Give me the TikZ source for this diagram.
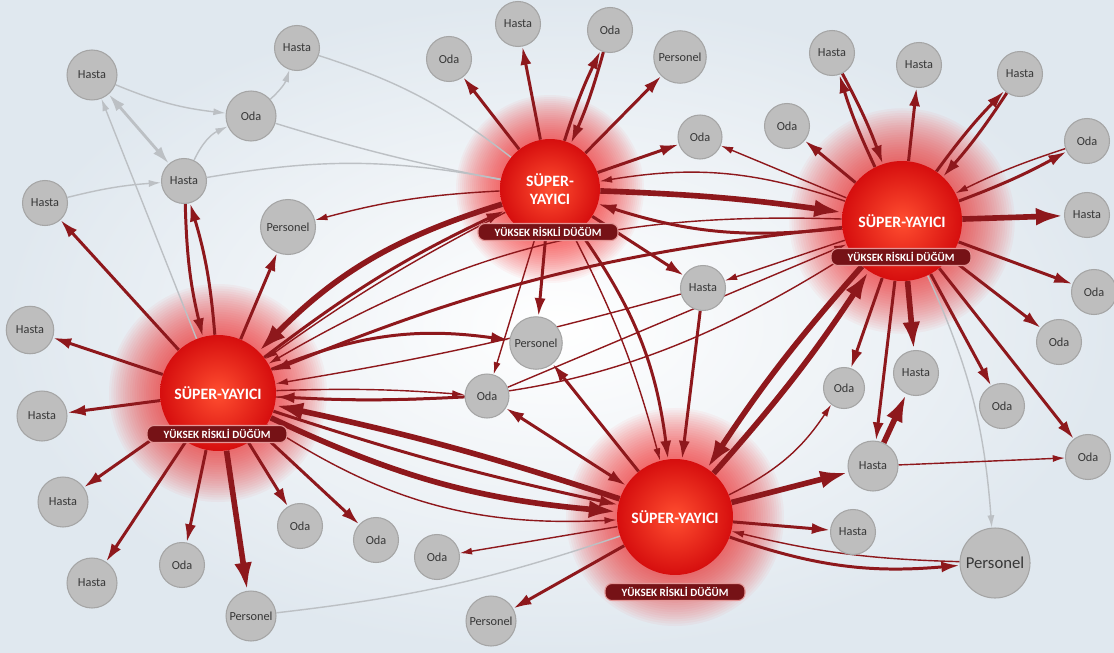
\documentclass[tikz,border=0pt]{standalone}
\usepackage{fontspec}
\setmainfont{Carlito}
\usetikzlibrary{arrows.meta}
\definecolor{linkred}{RGB}{142,24,28}
\definecolor{linkgray}{RGB}{188,192,196}
\definecolor{nodegray}{RGB}{190,190,190}
\definecolor{nodeline}{RGB}{165,165,165}
\definecolor{txtgray}{RGB}{55,55,55}
\definecolor{hubin}{RGB}{255,78,48}
\definecolor{hubout}{RGB}{214,14,14}
\definecolor{tagred}{RGB}{118,18,22}
\definecolor{tagline}{RGB}{228,150,150}
\definecolor{bgblue}{RGB}{224,232,239}
\definecolor{glowred}{RGB}{255,25,25}
\pgfdeclarelayer{bg}
\pgfdeclarelayer{links}
\pgfsetlayers{bg,links,main}

\begin{document}
\begin{tikzpicture}
[
x=0.02cm,y=-0.02cm,
>={Latex[length=4pt 3.75 0,width=2pt 2.5 0]},
hub/.style={circle,minimum size=#1,inner sep=0pt,inner color=hubin,outer color=hubout,text=white,align=center,font=\bfseries\fontsize{9}{10}\selectfont},
risk/.style={rounded corners=4pt,fill=tagred,draw=tagline,line width=0.6pt,text=white,minimum width=2.8cm,minimum height=0.34cm,inner sep=1pt,font=\bfseries\fontsize{6.3}{7}\selectfont},
leaf/.style={circle,fill=nodegray,draw=nodeline,line width=0.6pt,minimum size=#1,inner sep=0pt,text=txtgray,font=\fontsize{7}{8}\selectfont},
leaf/.default=0.9cm,
lnk/.style={draw=linkred,->},
twoway/.style={draw=linkred,<->},
glnk/.style={draw=linkgray,line width=0.8pt,->},
slim/.style={line width=0.8pt},
medium/.style={line width=1.7pt},
heavy/.style={line width=3.2pt},
]
\useasboundingbox (0,0) rectangle (1114,652);

%Place the nodes
\node[hub=2cm] (sa) at (550,189) {SÜPER-\\YAYICI};
\node[risk] (ta) at (548,232) {YÜKSEK RİSKLİ DÜĞÜM};
\node[hub=2.4cm] (sb) at (902,221) {SÜPER-YAYICI};
\node[risk] (tb) at (901,257) {YÜKSEK RİSKLİ DÜĞÜM};
\node[hub=2.32cm] (sc) at (218,393) {SÜPER-YAYICI};
\node[risk] (tc) at (217,434) {YÜKSEK RİSKLİ DÜĞÜM};
\node[hub=2.32cm] (sd) at (675,517) {SÜPER-YAYICI};
\node[risk] (td) at (675,592) {YÜKSEK RİSKLİ DÜĞÜM};

%top left
\node[leaf=1cm] (h1) at (92,75) {Hasta};
\node[leaf] (h2) at (297,48) {Hasta};
\node[leaf=1cm] (o1) at (251,116) {Oda};
\node[leaf] (h3) at (184,181) {Hasta};
\node[leaf] (h4) at (45,203) {Hasta};
\node[leaf=1.1cm] (p1) at (288,227) {Personel};
%left
\node[leaf=0.95cm] (h5) at (30,330) {Hasta};
\node[leaf=1cm] (h6) at (42,416) {Hasta};
\node[leaf=1cm] (h7) at (63,502) {Hasta};
\node[leaf=1cm] (h8) at (92,583) {Hasta};
\node[leaf] (o2) at (182,565) {Oda};
\node[leaf=1cm] (p2) at (251,616) {Personel};
\node[leaf] (o3) at (300,526) {Oda};
\node[leaf] (o4) at (376,540) {Oda};
%top
\node[leaf] (o5) at (449,59) {Oda};
\node[leaf] (h9) at (518,24) {Hasta};
\node[leaf] (o6) at (610,30) {Oda};
\node[leaf=1.05cm] (p3) at (680,57) {Personel};
\node[leaf=0.88cm] (o7) at (700,137) {Oda};
%top right
\node[leaf] (o8) at (787,126) {Oda};
\node[leaf] (h10) at (832,53) {Hasta};
\node[leaf] (h11) at (919,65) {Hasta};
\node[leaf] (h12) at (1020,74) {Hasta};
\node[leaf] (o9) at (1087,141) {Oda};
\node[leaf] (h13) at (1087,215) {Hasta};
\node[leaf] (o10) at (1094,292) {Oda};
\node[leaf] (o11) at (1059,342) {Oda};
\node[leaf] (o12) at (1002,406) {Oda};
\node[leaf] (o13) at (1088,457) {Oda};
\node[leaf] (h14) at (916,373) {Hasta};
\node[leaf=0.82cm] (o14) at (844,388) {Oda};
\node[leaf=1cm] (h15) at (873,466) {Hasta};
\node[leaf] (h16) at (853,532) {Hasta};
\node[leaf=1.4cm,font=\fontsize{9.5}{10}\selectfont] (p4) at (995,563) {Personel};
%middle and bottom
\node[leaf] (h17) at (703,288) {Hasta};
\node[leaf=1.05cm] (p5) at (536,343) {Personel};
\node[leaf=0.88cm] (o15) at (487,396) {Oda};
\node[leaf] (o16) at (437,557) {Oda};
\node[leaf=1cm] (p6) at (491,621) {Personel};

\begin{pgfonlayer}{bg}
\shade[inner color=white,outer color=bgblue] (0,0) rectangle (1114,652);
\foreach \n/\r in {sa/1.0,sb/1.2,sc/1.16,sd/1.16}
  \foreach \k in {1,...,22}
    \fill[glowred,opacity=0.04] (\n.center) circle ({\r*(1+0.04*\k)*1cm});
\end{pgfonlayer}

\begin{pgfonlayer}{links}
%Draw the connections
%grey corner
\draw[glnk] (h1) to[bend right=8] (o1);
\draw[glnk,<->,line width=1.6pt] (h1) -- (h3);
\draw[glnk] (h3) to[bend left=20] (o1);
\draw[glnk] (o1) to[bend right=15] (h2);
\draw[glnk] (h4) to[bend left=5] (h3);
\draw[glnk] (sc) -- (h1);
\draw[glnk,-] (h2) to[bend left=10] (sa);
\draw[glnk,-] (o1) to[bend right=3] (sa);
\draw[glnk,-] (h3) to[bend left=10] (sa);
\draw[glnk,-] (p2) to[bend right=6] (sd);
\draw[glnk] (sb) to[bend left=10] (p4);
%top centre
\draw[lnk,medium] (sa) -- (o5);
\draw[lnk,medium] (sa) -- (h9);
\draw[lnk,medium] (sa) to[bend left=4] (o6);
\draw[lnk,medium] (o6) to[bend left=4] (sa);
\draw[lnk,medium] (sa) -- (p3);
\draw[lnk,medium] (sa) -- (o7);
\draw[lnk,slim] (sb) -- (o7);
\draw[lnk,heavy] (sa) to[bend left=3] (sb);
\draw[lnk,slim] (sb) to[bend right=14] (sa);
\draw[lnk,medium] (sb) to[bend left=12] (sa);
\draw[lnk,slim] (sa) to[bend right=6] (p1);
\draw[lnk,heavy] (sa) to[bend right=14] (sc);
\draw[lnk,slim] (sa) to[bend right=4] (sc);
\draw[lnk,medium] (sc) to[bend left=6] (sa);
\draw[lnk,medium] (sa) -- (p5);
\draw[lnk,slim] (sa) -- (o15);
\draw[lnk,medium] (sa) -- (h17);
\draw[lnk,slim] (sa) to[bend left=6] (sd);
\draw[lnk,medium] (sa) to[bend left=14] (sd);
%top right
\draw[lnk,medium] (sb) -- (o8);
\draw[lnk,medium] (sb) to[bend left=4] (h10);
\draw[lnk,medium] (h10) to[bend left=4] (sb);
\draw[lnk,medium] (sb) -- (h11);
\draw[lnk,medium] (sb) to[bend left=4] (h12);
\draw[lnk,medium] (h12) to[bend left=4] (sb);
\draw[lnk,medium] (sb) to[bend right=4] (o9);
\draw[lnk,slim] (o9) to[bend right=4] (sb);
\draw[lnk,heavy] (sb) -- (h13);
\draw[lnk,medium] (sb) -- (o10);
\draw[lnk,medium] (sb) -- (o11);
\draw[lnk,medium] (sb) -- (o12);
\draw[lnk,medium] (sb) -- (o13);
\draw[lnk,heavy] (sb) -- (h14);
\draw[lnk,medium] (sb) -- (o14);
\draw[lnk,medium] (sb) -- (h15);
\draw[lnk,heavy] (h15) -- (h14);
\draw[lnk,slim] (h15) -- (o13);
\draw[lnk,slim] (sb) -- (h17);
\draw[lnk,heavy] (sb) to[bend right=4] (sd);
\draw[lnk,heavy] (sd) to[bend right=4] (sb);
\draw[lnk,medium] (sb) to[bend right=8] (sc);
\draw[lnk,slim] (sb) to[bend right=16] (sc);
\draw[lnk,slim] (o15) -- (sb);
\draw[lnk,slim] (sc) to[bend right=18] (sb);
%left
\draw[lnk,medium] (sc) -- (h4);
\draw[lnk,medium] (sc) -- (h5);
\draw[lnk,medium] (sc) -- (h6);
\draw[lnk,medium] (sc) -- (h7);
\draw[lnk,medium] (sc) -- (h8);
\draw[lnk,medium] (sc) -- (o2);
\draw[lnk,heavy] (sc) -- (p2);
\draw[lnk,medium] (sc) -- (o3);
\draw[lnk,medium] (sc) -- (o4);
\draw[lnk,medium] (sc) -- (p1);
\draw[lnk,medium] (sc) to[bend right=6] (h3);
\draw[lnk,medium] (h3) to[bend right=6] (sc);
\draw[lnk,heavy] (sc) to[bend right=10] (sd);
\draw[lnk,medium] (sc) to[bend right=3] (sd);
\draw[lnk,slim] (sc) to[bend right=18] (sd);
\draw[lnk,heavy] (sd) to[bend right=3] (sc);
\draw[lnk,medium] (sc) to[bend left=15] (p5);
\draw[lnk,slim] (sc) to[bend left=3] (o15);
\draw[lnk,medium] (o15) to[bend left=3] (sc);
\draw[lnk,slim] (h17) to[bend left=3] (sc);
%bottom
\draw[twoway,medium] (sd) -- (o15);
\draw[lnk,medium] (sd) -- (p5);
\draw[lnk,medium] (h17) -- (sd);
\draw[lnk,slim] (sd) -- (o16);
\draw[lnk,medium] (sd) -- (p6);
\draw[lnk,heavy] (sd) -- (h15);
\draw[lnk,medium] (sd) -- (h16);
\draw[lnk,slim] (sd) to[bend right=15] (o14);
\draw[lnk,medium] (sd) to[bend right=12] (p4);
\draw[lnk,slim] (p4) to[bend left=6] (sd);
\end{pgfonlayer}
\end{tikzpicture}
\end{document}
